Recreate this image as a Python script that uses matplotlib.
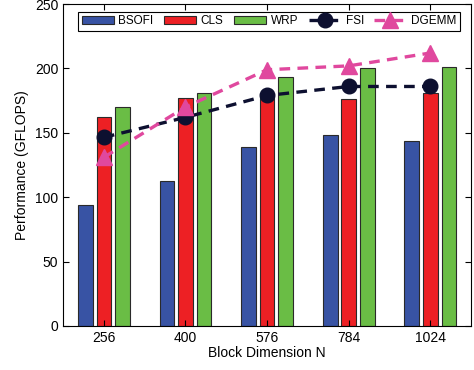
import numpy as np
import matplotlib.pyplot as plt

plt.rcParams['font.family'] = ['Liberation Sans', 'DejaVu Sans']

block_dims = ['256', '400', '576', '784', '1024']
bsofi = [94, 112.5, 139, 148, 144]
cls = [162, 177, 178, 176, 181]
wrp = [170, 181, 193, 200, 201]
fsi = [146.5, 162, 179, 186, 186]
dgemm = [131, 170, 199, 202, 212]

x = np.arange(1, len(block_dims) + 1)
w = 0.18
off = 0.227

fig = plt.figure(figsize=(4.74, 3.70), dpi=100)
ax = fig.add_axes([0.133, 0.119, 0.861, 0.870])

edge = dict(edgecolor='#2a2a2a', linewidth=0.8)
b1 = ax.bar(x - off, bsofi, w, color='#3853a4', label='BSOFI', **edge)
b2 = ax.bar(x, cls, w, color='#ed2024', label='CLS', **edge)
b3 = ax.bar(x + off, wrp, w, color='#6abd45', label='WRP', **edge)
l1, = ax.plot(x, fsi, color='#0d1030', lw=2.4, ls=(0, (3.2, 2.2)),
              marker='o', ms=10.5, label='FSI', zorder=3)
l2, = ax.plot(x, dgemm, color='#e0489e', lw=2.4, ls=(0, (3.2, 2.2)),
              marker='^', ms=12, label='DGEMM', zorder=3)

ax.set_xlim(0.5, 5.5)
ax.set_ylim(0, 250)
ax.set_xticks(x)
ax.set_xticklabels(block_dims)
ax.set_yticks([0, 50, 100, 150, 200, 250])
ax.tick_params(direction='in', top=True, right=True, labelsize=10, length=4)
ax.set_xlabel('Block Dimension N', fontsize=10, labelpad=1)
ax.set_ylabel('Performance (GFLOPS)', fontsize=10)

leg = ax.legend(handles=[b1, b2, b3, l1, l2], ncol=5, loc='upper center',
                bbox_to_anchor=(0.505, 0.995),
                fontsize=8.5, handlelength=2.7, columnspacing=0.9,
                handletextpad=0.4, borderpad=0.3, fancybox=False,
                edgecolor='black', framealpha=1)
leg.get_frame().set_linewidth(0.8)

fig.savefig('out.png', dpi=100)
